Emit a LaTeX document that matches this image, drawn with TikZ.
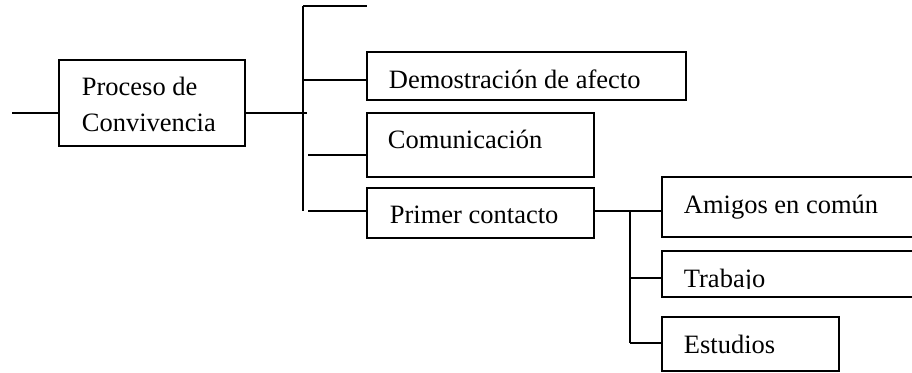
\documentclass[tikz,border=0pt]{standalone}
\usepackage{fontspec}
\setmainfont{Liberation Serif}
\begin{document}
\begin{tikzpicture}[x=1pt,y=-1pt, line width=1.8pt,
  box/.style={draw, rectangle, outer sep=0pt, inner sep=0pt, anchor=north west},
  lbl/.style={anchor=base west, inner sep=0pt, font=\fontsize{26.5}{32}\selectfont}]
\useasboundingbox[fill=white] (0,0) rectangle (912,372);
\clip (0,0) rectangle (912,372);

% boxes
\node[box, minimum width=186pt, minimum height=86pt] (proc) at (59,60) {};
\node[lbl] (procA) at (81,95) {Proceso de};
\node[lbl] (procB) at (81,131) {Convivencia};

\node[box, minimum width=319pt, minimum height=48pt] (dem) at (367,52) {};
\node[lbl] (demt) at (388,88) {Demostración de afecto};

\node[box, minimum width=227pt, minimum height=64pt] (com) at (367,113) {};
\node[lbl] (comt) at (387,148) {Comunicación};

\node[box, minimum width=227pt, minimum height=50pt] (pri) at (367,188) {};
\node[lbl] (prit) at (389,223) {Primer contacto};

\node[box, minimum width=270pt, minimum height=60pt] (ami) at (662,177) {};
\node[lbl] (amit) at (683,213) {Amigos en común};

\node[box, minimum width=270pt, minimum height=46pt] (tra) at (662,251) {};
\begin{scope}
  \clip (662,251) rectangle (932,288.5);
  \node[lbl] (trat) at (683,287) {Trabajo};
\end{scope}

\node[box, minimum width=177pt, minimum height=54pt] (est) at (662,317) {};
\node[lbl] (estt) at (683,353) {Estudios};

% connectors
\coordinate (stub) at (12,113);
\draw (stub) -- (stub -| proc.west);
\coordinate (j1) at (307,113);
\draw (proc.east |- j1) -- (j1);

\coordinate (sTop) at (303,6);
\coordinate (sBot) at (303,211);
\coordinate (topEnd) at (367,6);
\draw (sTop) -- (sBot);
\draw (sTop) -- (topEnd);

\coordinate (d0) at (303,80);
\draw (d0) -- (d0 -| dem.west);
\coordinate (c0) at (308,155);
\draw (c0) -- (c0 -| com.west);
\coordinate (p0) at (308,211);
\draw (p0) -- (p0 -| pri.west);

\coordinate (q0) at (630,211);
\coordinate (qB) at (630,343);
\coordinate (t0) at (630,278);
\draw (pri.east |- q0) -- (q0 -| ami.west);
\draw (q0) -- (qB);
\draw (t0) -- (t0 -| tra.west);
\draw (qB) -- (qB -| est.west);
\end{tikzpicture}
\end{document}
